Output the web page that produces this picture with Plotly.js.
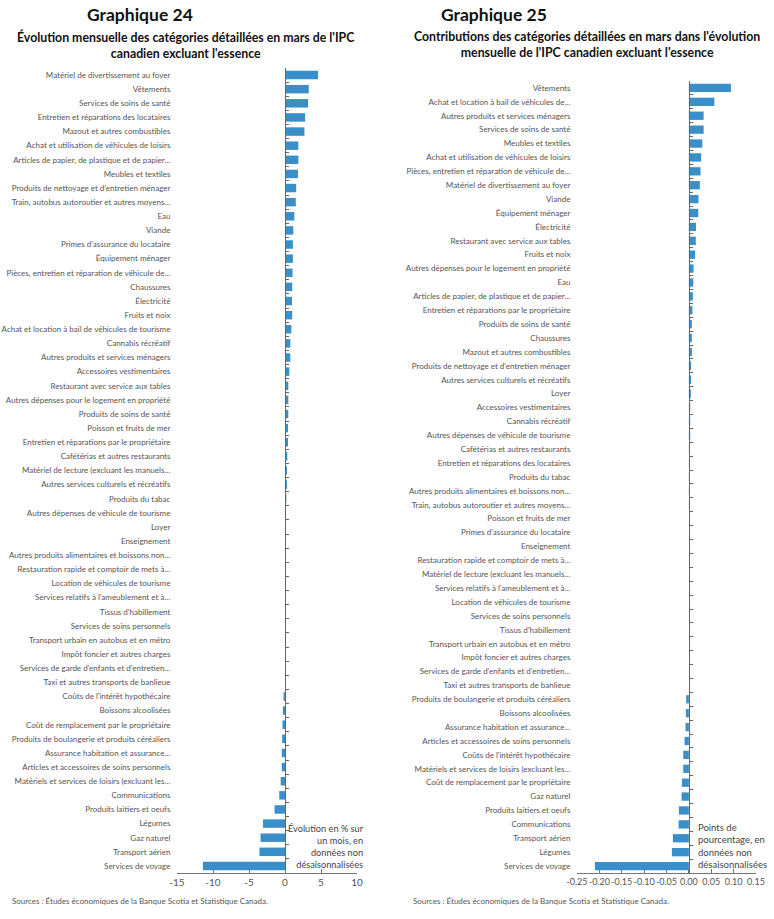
<!DOCTYPE html>
<html>
<head>
<meta charset="utf-8">
<script src="https://cdn.plot.ly/plotly-3.0.1.min.js"></script>
<style>
  body { margin: 0; background: #fff; }
  #graph { width: 774px; height: 919px; }
</style>
</head>
<body>
<div id="graph"></div>
<script>
// Graphique 24 : évolution mensuelle (%)
const cat24 = [
  "Matériel de divertissement au foyer", "Vêtements", "Services de soins de santé",
  "Entretien et réparations des locataires", "Mazout et autres combustibles",
  "Achat et utilisation de véhicules de loisirs", "Articles de papier, de plastique et de papier…",
  "Meubles et textiles", "Produits de nettoyage et d'entretien ménager",
  "Train, autobus autoroutier et autres moyens…", "Eau", "Viande", "Primes d'assurance du locataire",
  "Équipement ménager", "Pièces, entretien et réparation de véhicule de…", "Chaussures", "Électricité",
  "Fruits et noix", "Achat et location à bail de véhicules de tourisme", "Cannabis récréatif",
  "Autres produits et services ménagers", "Accessoires vestimentaires", "Restaurant avec service aux tables",
  "Autres dépenses pour le logement en propriété", "Produits de soins de santé", "Poisson et fruits de mer",
  "Entretien et réparations par le propriétaire", "Cafétérias et autres restaurants",
  "Matériel de lecture (excluant les manuels…", "Autres services culturels et récréatifs",
  "Produits du tabac", "Autres dépenses de véhicule de tourisme", "Loyer", "Enseignement",
  "Autres produits alimentaires et boissons non…", "Restauration rapide et comptoir de mets à…",
  "Location de véhicules de tourisme", "Services relatifs à l'ameublement et à…", "Tissus d'habillement",
  "Services de soins personnels", "Transport urbain en autobus et en métro", "Impôt foncier et autres charges",
  "Services de garde d'enfants et d'entretien…", "Taxi et autres transports de banlieue",
  "Coûts de l'intérêt hypothécaire", "Boissons alcoolisées", "Coût de remplacement par le propriétaire",
  "Produits de boulangerie et produits céréaliers", "Assurance habitation et assurance…",
  "Articles et accessoires de soins personnels", "Matériels et services de loisirs (excluant les…",
  "Communications", "Produits laitiers et oeufs", "Légumes", "Gaz naturel", "Transport aérien",
  "Services de voyage"
]
const val24 = [
  4.6, 3.3, 3.2, 2.8, 2.7, 1.85, 1.85, 1.8, 1.55, 1.5, 1.3, 1.15, 1.1, 1.1, 1.05, 1.0, 0.97,
  1.0, 0.88, 0.74, 0.74, 0.6, 0.46, 0.46, 0.46, 0.42, 0.42, 0.32, 0.28, 0.28, 0.19, 0.09, 0, 0,
  0, 0, 0, 0, 0, 0, 0, 0, 0, 0, -0.2, -0.3, -0.35, -0.4, -0.45, -0.45, -0.6, -0.8, -1.45,
  -3.05, -3.4, -3.55, -11.4
]

// Graphique 25 : contributions (points de pourcentage)
const cat25 = [
  "Vêtements", "Achat et location à bail de véhicules de…", "Autres produits et services ménagers",
  "Services de soins de santé", "Meubles et textiles", "Achat et utilisation de véhicules de loisirs",
  "Pièces, entretien et réparation de véhicule de…", "Matériel de divertissement au foyer", "Viande",
  "Équipement ménager", "Électricité", "Restaurant avec service aux tables", "Fruits et noix",
  "Autres dépenses pour le logement en propriété", "Eau", "Articles de papier, de plastique et de papier…",
  "Entretien et réparations par le propriétaire", "Produits de soins de santé", "Chaussures",
  "Mazout et autres combustibles", "Produits de nettoyage et d'entretien ménager",
  "Autres services culturels et récréatifs", "Loyer", "Accessoires vestimentaires", "Cannabis récréatif",
  "Autres dépenses de véhicule de tourisme", "Cafétérias et autres restaurants",
  "Entretien et réparations des locataires", "Produits du tabac",
  "Autres produits alimentaires et boissons non…", "Train, autobus autoroutier et autres moyens…",
  "Poisson et fruits de mer", "Primes d'assurance du locataire", "Enseignement",
  "Restauration rapide et comptoir de mets à…", "Matériel de lecture (excluant les manuels…",
  "Services relatifs à l'ameublement et à…", "Location de véhicules de tourisme",
  "Services de soins personnels", "Tissus d'habillement", "Transport urbain en autobus et en métro",
  "Impôt foncier et autres charges", "Services de garde d'enfants et d'entretien…",
  "Taxi et autres transports de banlieue", "Produits de boulangerie et produits céréaliers",
  "Boissons alcoolisées", "Assurance habitation et assurance…", "Articles et accessoires de soins personnels",
  "Coûts de l'intérêt hypothécaire", "Matériels et services de loisirs (excluant les…",
  "Coût de remplacement par le propriétaire", "Gaz naturel", "Produits laitiers et oeufs",
  "Communications", "Transport aérien", "Légumes", "Services de voyage"
]
const val25 = [
  0.094, 0.057, 0.033, 0.033, 0.030, 0.0275, 0.026, 0.0245, 0.0215, 0.021, 0.016, 0.0155, 0.014,
  0.0105, 0.0097, 0.009, 0.008, 0.0067, 0.0067, 0.0067, 0.005, 0.005, 0.0045, 0.003, 0.003, 0.003,
  0.002, 0.002, 0.002, 0.001, 0.001, 0, 0, 0, 0, 0, 0, 0, 0, 0, 0, 0, 0, 0,
  -0.006, -0.0067, -0.0075, -0.0097, -0.0126, -0.0126, -0.0156, -0.0164, -0.0223, -0.023,
  -0.0357, -0.038, -0.21
]

const tick24 = [-15, -10, -5, 0, 5, 10]
const tick25 = [-0.25, -0.2, -0.15, -0.1, -0.05, 0, 0.05, 0.1, 0.15]

const W = 774
const H = 919
const bleu = "#3a8fc8"
const police = "Lato, 'Open Sans', sans-serif"
const gris = "#555"

function px(x) { return x / W }
function py(y) { return 1 - y / H }

const traces = [
  {
    type: "bar", orientation: "h", x: val24, y: cat24,
    xaxis: "x", yaxis: "y", width: 0.6,
    marker: { color: bleu }, hoverinfo: "x+y"
  },
  {
    type: "bar", orientation: "h", x: val25, y: cat25,
    xaxis: "x2", yaxis: "y2", width: 0.6,
    marker: { color: bleu }, hoverinfo: "x+y"
  }
]

const axeX = {
  showgrid: false, zeroline: false, showline: true, linecolor: "#777", linewidth: 1,
  ticks: "inside", ticklen: 4, tickcolor: "#777", tickangle: 0,
  tickfont: { family: police, size: 10, color: gris }
}
const axeY = {
  type: "category", autorange: "reversed", anchor: "free",
  showgrid: false, zeroline: false, showline: true, linecolor: "#666", linewidth: 1,
  ticks: "inside", ticklen: 3, tickcolor: "#666", tickson: "boundaries",
  tickfont: { family: police, size: 8, color: gris }
}

const layout = {
  width: W, height: H,
  margin: { l: 0, r: 0, t: 0, b: 0 },
  paper_bgcolor: "#fff", plot_bgcolor: "rgba(0,0,0,0)",
  showlegend: false, bargap: 0.4,
  font: { family: police, color: gris },
  xaxis: Object.assign({}, axeX, {
    domain: [px(177), px(357)], anchor: "y", range: [-15, 10],
    tickvals: tick24, ticktext: tick24.map(String)
  }),
  yaxis: Object.assign({}, axeY, {
    domain: [py(873), py(68)], position: px(285), ticklabelstandoff: 113
  }),
  xaxis2: Object.assign({}, axeX, {
    domain: [px(577), px(756)], anchor: "y2", range: [-0.25, 0.15],
    tickvals: tick25, ticktext: tick25.map((v) => v.toFixed(2)),
    tickfont: { family: police, size: 9, color: gris }
  }),
  yaxis2: Object.assign({}, axeY, {
    domain: [py(873), py(81)], position: px(689), ticklabelstandoff: 117
  }),
  annotations: [
    { text: "<b>Graphique 24</b>", x: px(140), y: py(15), xref: "paper", yref: "paper",
      showarrow: false, xanchor: "center", yanchor: "middle",
      font: { family: police, size: 17.5, color: "#111" } },
    { text: "<b>Évolution mensuelle des catégories détaillées en mars de l'IPC<br>canadien excluant l'essence</b>",
      x: px(185), y: py(45), xref: "paper", yref: "paper", showarrow: false,
      xanchor: "center", yanchor: "middle", align: "center",
      font: { family: police, size: 12.3, color: "#111" } },
    { text: "<b>Graphique 25</b>", x: px(494), y: py(15), xref: "paper", yref: "paper",
      showarrow: false, xanchor: "center", yanchor: "middle",
      font: { family: police, size: 17.5, color: "#111" } },
    { text: "<b>Contributions des catégories détaillées en mars dans l'évolution<br>mensuelle de l'IPC canadien excluant l'essence</b>",
      x: px(587), y: py(45), xref: "paper", yref: "paper", showarrow: false,
      xanchor: "center", yanchor: "middle", align: "center",
      font: { family: police, size: 12.3, color: "#111" } },
    { text: "Évolution en % sur<br>un mois, en<br>données non<br>désaisonnalisées",
      x: px(366), y: py(846), xref: "paper", yref: "paper", showarrow: false,
      xanchor: "right", yanchor: "middle", align: "right",
      font: { family: police, size: 9.2, color: "#444" } },
    { text: "Points de<br>pourcentage, en<br>données non<br>désaisonnalisées",
      x: px(696), y: py(846), xref: "paper", yref: "paper", showarrow: false,
      xanchor: "left", yanchor: "middle", align: "left",
      font: { family: police, size: 9.5, color: "#444" } },
    { text: "Sources : Études économiques de la Banque Scotia et Statistique Canada.",
      x: px(10), y: py(901), xref: "paper", yref: "paper", showarrow: false,
      xanchor: "left", yanchor: "middle",
      font: { family: police, size: 8, color: gris } },
    { text: "Sources : Études économiques de la Banque Scotia et Statistique Canada.",
      x: px(411), y: py(901), xref: "paper", yref: "paper", showarrow: false,
      xanchor: "left", yanchor: "middle",
      font: { family: police, size: 8, color: gris } }
  ]
}

Plotly.newPlot("graph", traces, layout, { displayModeBar: false, staticPlot: true })
</script>
</body>
</html>
